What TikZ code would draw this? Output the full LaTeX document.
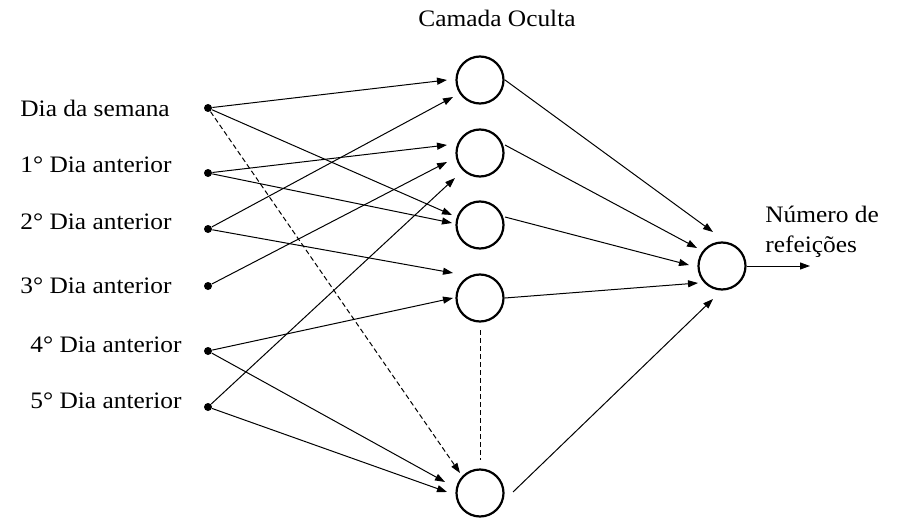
\documentclass[tikz,border=0pt]{standalone}
\usepackage{fontspec}
\setmainfont{Liberation Serif}[FakeStretch=1.075]
\usetikzlibrary{arrows.meta,calc}
\begin{document}
\begin{tikzpicture}[x=0.5pt,y=-0.5pt,
  lbl/.style={font=\fontsize{11.8}{13}\selectfont, inner sep=0pt, anchor=base west},
  ttl/.style={font=\fontsize{11.8}{13}\selectfont, inner sep=0pt, anchor=base},
  dot/.style={circle,fill,inner sep=0pt,minimum size=4pt},
  neuron/.style={circle,draw,line width=1.1pt,minimum size=23.5pt,inner sep=0pt},
  conn/.style={line width=0.5pt,-{Triangle[length=5pt,width=3.5pt]}},
  dconn/.style={conn,dash pattern=on 2.5pt off 1.5pt},
  vdash/.style={line width=0.5pt,dash pattern=on 2.5pt off 1.5pt}]
\useasboundingbox (0,0) rectangle (910,524);
% labels
\node[ttl] (tco) at (497,27) {Camada Oculta};
\node[lbl] (l0) at (20,117) {Dia da semana};
\node[lbl] (l1) at (20,172) {1° Dia anterior};
\node[lbl] (l2) at (20,229) {2° Dia anterior};
\node[lbl] (l3) at (20,293) {3° Dia anterior};
\node[lbl] (l4) at (30,352) {4° Dia anterior};
\node[lbl] (l5) at (30,408) {5° Dia anterior};
\node[lbl] (lo1) at (765,222) {Número de};
\node[lbl] (lo2) at (765,252) {refeições};
% input dots
\node[dot] (i0) at (208,108) {};
\node[dot] (i1) at (208,173) {};
\node[dot] (i2) at (208,229) {};
\node[dot] (i3) at (208,286) {};
\node[dot] (i4) at (208,351) {};
\node[dot] (i5) at (208,407) {};
% hidden neurons
\node[neuron] (h1) at (480,80) {};
\node[neuron] (h2) at (480,153) {};
\node[neuron] (h3) at (480,225) {};
\node[neuron] (h4) at (480,298) {};
\node[neuron] (h5) at (480,493) {};
% output neuron
\node[neuron] (o) at (722,266) {};
\coordinate (oend) at (810,266);
% input -> hidden
\draw[conn] (i0) -- ($(h1)+(-33,0)$);
\draw[conn] (i0) -- ($(h3)+(-28,-10)$);
\draw[dconn] (i0) -- ($(h5)+(-20,-20)$);
\draw[conn] (i1) -- ($(h2)+(-33,-8)$);
\draw[conn] (i1) -- ($(h3)+(-28,-2)$);
\draw[conn] (i2) -- ($(h1)+(-27,17)$);
\draw[conn] (i2) -- ($(h4)+(-27,-25)$);
\draw[conn] (i3) -- ($(h2)+(-33,9)$);
\draw[conn] (i4) -- ($(h4)+(-27,0)$);
\draw[conn] (i4) -- ($(h5)+(-35,-11)$);
\draw[conn] (i5) -- ($(h2)+(-25,25)$);
\draw[conn] (i5) -- ($(h5)+(-33,-1)$);
% dashed between hidden
\draw[vdash] ($(h4)+(0,32)$) -- ($(h5)+(0,-33)$);
% hidden -> output
\draw[conn] ($(h1)+(25,0)$) -- ($(o)+(-9,-34)$);
\draw[conn] ($(h2)+(25,-8)$) -- ($(o)+(-25,-18)$);
\draw[conn] ($(h3)+(25,-8)$) -- ($(o)+(-33,-1)$);
\draw[conn] ($(h4)+(25,0)$) -- ($(o)+(-24,17)$);
\draw[conn] ($(h5)+(33,-1)$) -- ($(o)+(-9,33)$);
% output
\draw[conn] (o.east) -- (oend);
\end{tikzpicture}
\end{document}
